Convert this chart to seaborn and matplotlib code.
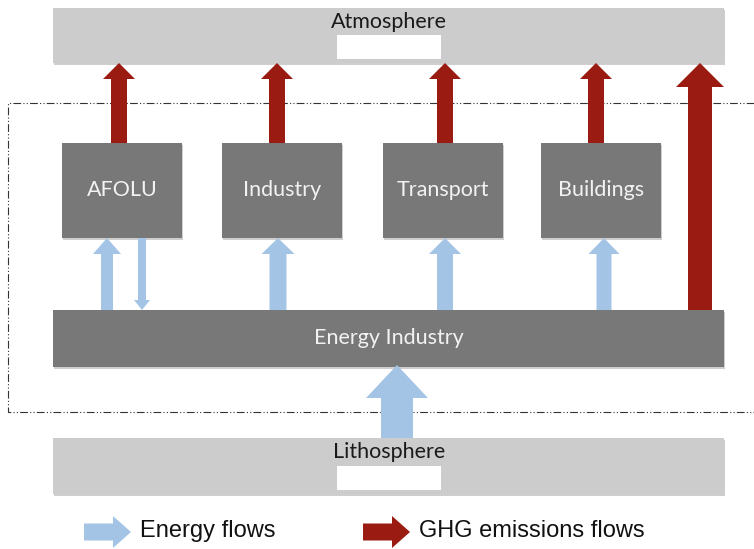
import matplotlib
matplotlib.use("Agg")
import matplotlib.pyplot as plt
from matplotlib.patches import Rectangle, FancyArrow
import seaborn as sns

# labels
spheres = ["Atmosphere", "Lithosphere"]
sectors = ["AFOLU", "Industry", "Transport", "Buildings"]
energy_bar = "Energy Industry"
legend_labels = ["Energy flows", "GHG emissions flows"]

# layout (pixel space, y grows downward)
sector_centers = [122, 282, 443, 601]
sector_w, sector_top, sector_bot = 120, 143, 238
red_x = [119, 277, 445, 596]
blue_x = [107, 278, 445, 604]
wide_x = [53, 724]
atm_y = (8, 63)
energy_y = (310, 367)
litho_y = (438, 494)

sns.set_theme(style="white")
plt.rcParams["font.family"] = ["Lato", "DejaVu Sans"]

pal = {"light": "#cbcccb", "dark": "#787878", "red": "#9a1b12",
       "blue": "#a4c4e6", "shadow": "#9e9e9e"}

fig = plt.figure(figsize=(7.54, 5.49), dpi=100)
ax = fig.add_axes([0, 0, 1, 1])
ax.set_xlim(0, 754)
ax.set_ylim(549, 0)
ax.axis("off")


def box(x0, x1, y0, y1, color, z=2):
    ax.add_patch(Rectangle((x0 + 1, y0 + 2), x1 - x0, y1 - y0,
                           color=pal["shadow"], alpha=0.5, lw=0, zorder=z - 0.1))
    ax.add_patch(Rectangle((x0, y0), x1 - x0, y1 - y0, color=color, lw=0, zorder=z))


def arrow(x, y0, y1, w, hw, hl, color, z=3):
    ax.add_patch(FancyArrow(x, y0, 0, y1 - y0, width=w, head_width=hw, head_length=hl,
                            length_includes_head=True, color=color, lw=0, zorder=z))


# system boundary
ax.plot([754, 8, 8, 754], [103, 103, 412, 412], color="#333333", lw=0.8,
        dashes=(7, 2, 1, 2, 1, 2), zorder=1)

# spheres
for name, (y0, y1), ty in zip(spheres, [atm_y, litho_y], [22, 452]):
    box(wide_x[0], wide_x[1], y0, y1, pal["light"])
    ax.add_patch(Rectangle((337, y1 - 28), 104, 24, color="white", lw=0, zorder=3))
    ax.text(389, ty, name, ha="center", va="center", fontsize=15.5, color="#1a1a1a", zorder=4)

# energy industry
box(wide_x[0], wide_x[1], energy_y[0], energy_y[1], pal["dark"])
ax.text(389, 338, energy_bar, ha="center", va="center", fontsize=15.5, color="#f2f2f2", zorder=4)

# sectors
for name, cx in zip(sectors, sector_centers):
    box(cx - sector_w / 2, cx + sector_w / 2, sector_top, sector_bot, pal["dark"])
    ax.text(cx, 190, name, ha="center", va="center", fontsize=15.5, color="#f2f2f2", zorder=4)

# emission arrows sector -> atmosphere
for x in red_x:
    arrow(x, sector_top, atm_y[1], 16, 32, 16, pal["red"])
# energy industry -> atmosphere
arrow(700, energy_y[0], atm_y[1], 24, 48, 24, pal["red"])

# energy arrows energy industry -> sectors
widths = [12, 17, 16, 15]
for x, w in zip(blue_x, widths):
    arrow(x, energy_y[0], sector_bot, w, w + 16, 16, pal["blue"])
# AFOLU -> energy industry (down)
arrow(142, sector_bot, energy_y[0], 8, 16, 10, pal["blue"])
# lithosphere -> energy industry
arrow(397, litho_y[0], energy_y[1] - 2, 32, 62, 33, pal["blue"], z=2.5)

# legend
for lab, x0, col in zip(legend_labels, [84, 363], [pal["blue"], pal["red"]]):
    ax.add_patch(FancyArrow(x0, 532, 47, 0, width=17, head_width=32, head_length=18,
                            length_includes_head=True, color=col, lw=0, zorder=3))
    ax.text(x0 + 56, 531, lab, ha="left", va="center", fontsize=17,
            family=["Liberation Sans", "DejaVu Sans"], color="#111111")

fig.savefig("out.png", dpi=100)
